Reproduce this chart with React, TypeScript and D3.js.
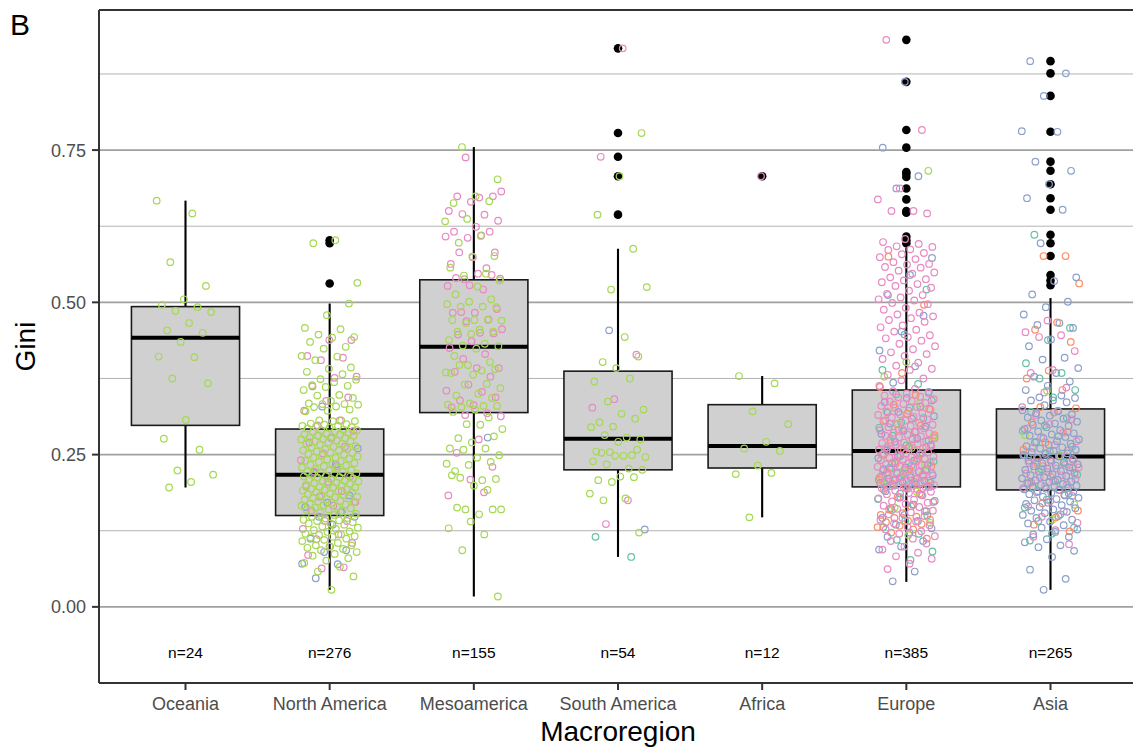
import React from "react";
import * as d3 from "d3";

// regions on the x axis and the sample size under each box
const regions = ["Oceania", "North America", "Mesoamerica", "South America", "Africa", "Europe", "Asia"];
const counts = [24, 276, 155, 54, 12, 385, 265];

// box statistics
const q1 = [0.298, 0.150, 0.319, 0.225, 0.228, 0.197, 0.192];
const medians = [0.442, 0.217, 0.427, 0.276, 0.264, 0.256, 0.247];
const q3 = [0.493, 0.292, 0.537, 0.387, 0.332, 0.356, 0.325];
const whiskerLow = [0.196, 0.028, 0.017, 0.082, 0.147, 0.041, 0.028];
const whiskerHigh = [0.667, 0.498, 0.755, 0.588, 0.379, 0.590, 0.507];

// boxplot outliers (black dots)
const outOceania: number[] = [];
const outNorthAmerica = [0.531, 0.597, 0.602];
const outMesoamerica: number[] = [];
const outSouthAmerica = [0.917, 0.778, 0.739, 0.707, 0.644];
const outAfrica = [0.707];
const outEurope = [0.931, 0.862, 0.783, 0.754, 0.714, 0.711, 0.706, 0.687, 0.669, 0.650, 0.647, 0.608, 0.602, 0.597];
const outAsia = [0.896, 0.876, 0.839, 0.780, 0.731, 0.716, 0.694, 0.671, 0.652, 0.611, 0.597, 0.576, 0.545, 0.536, 0.528];

// jittered observations, one array per region and group
const ocGreen = [0.667, 0.646, 0.566, 0.527, 0.505, 0.496, 0.492, 0.486, 0.484, 0.466, 0.454, 0.450, 0.435, 0.411, 0.410, 0.375, 0.367, 0.307, 0.276, 0.258, 0.224, 0.217, 0.205, 0.196];

const naGreen = [
  0.532, 0.602, 0.597, 0.498, 0.479, 0.458, 0.456, 0.447, 0.443, 0.442, 0.435, 0.427, 0.424, 0.412, 0.411, 0.405, 0.393, 0.391, 0.386, 0.382,
  0.374, 0.373, 0.369, 0.364, 0.363, 0.361, 0.356, 0.348, 0.347, 0.343, 0.338, 0.334, 0.333, 0.333, 0.332, 0.329, 0.328, 0.324, 0.322, 0.321,
  0.306, 0.306, 0.305, 0.305, 0.301, 0.300, 0.299, 0.297, 0.297, 0.296, 0.295, 0.294, 0.293,
  0.291, 0.290, 0.290, 0.288, 0.287, 0.286, 0.284, 0.283, 0.283, 0.281, 0.281, 0.279, 0.278, 0.277, 0.276, 0.275, 0.273, 0.272, 0.272, 0.270,
  0.268, 0.268, 0.266, 0.264, 0.263, 0.262, 0.260, 0.259, 0.257, 0.257, 0.255, 0.253, 0.253, 0.251, 0.250, 0.249, 0.247, 0.245, 0.245, 0.243,
  0.242, 0.240, 0.239, 0.238, 0.236, 0.235, 0.233, 0.232, 0.231, 0.229, 0.228, 0.226, 0.225, 0.224, 0.222, 0.221, 0.220, 0.219, 0.218, 0.217,
  0.216, 0.215, 0.214, 0.213, 0.212, 0.211, 0.210, 0.209, 0.207, 0.207, 0.206, 0.204, 0.203, 0.202, 0.201, 0.200, 0.199, 0.197, 0.196, 0.196,
  0.194, 0.193, 0.192, 0.191, 0.190, 0.188, 0.188, 0.186, 0.185, 0.184, 0.183, 0.181, 0.180, 0.179, 0.178, 0.177, 0.176, 0.174, 0.173, 0.172,
  0.171, 0.169, 0.168, 0.167, 0.166, 0.164, 0.163, 0.162, 0.160, 0.159, 0.157, 0.155, 0.153, 0.151,
  0.148, 0.146, 0.145, 0.143, 0.142, 0.141, 0.139, 0.137, 0.137, 0.135, 0.132, 0.130, 0.128, 0.126, 0.124, 0.123, 0.120, 0.119, 0.118, 0.116,
  0.115, 0.114, 0.112, 0.110, 0.108, 0.105, 0.101, 0.101, 0.099, 0.097, 0.095, 0.093, 0.090, 0.087, 0.084, 0.080, 0.076, 0.072, 0.066, 0.058,
  0.050, 0.028,
];
const naPink = [
  0.438, 0.438, 0.412, 0.409, 0.405, 0.378, 0.376, 0.362, 0.344, 0.338, 0.322, 0.306, 0.298,
  0.289, 0.277, 0.270, 0.263, 0.252, 0.241, 0.231, 0.222, 0.214, 0.205, 0.198, 0.190, 0.181, 0.172, 0.166, 0.158,
  0.141, 0.141, 0.128, 0.119, 0.111, 0.105, 0.099, 0.085, 0.065, 0.063,
];
const naBlue = [0.329, 0.260, 0.234, 0.220, 0.183, 0.171, 0.164, 0.156, 0.148, 0.148, 0.135, 0.112, 0.093, 0.090, 0.071, 0.070, 0.047];

const meGreen = [
  0.755, 0.702, 0.674, 0.663, 0.666, 0.637, 0.633, 0.609, 0.598, 0.576, 0.575, 0.557, 0.547, 0.544, 0.536, 0.526, 0.513, 0.505, 0.501, 0.497,
  0.493, 0.493, 0.492, 0.471, 0.471, 0.471, 0.466, 0.470, 0.455, 0.452, 0.452, 0.448, 0.438, 0.432, 0.429, 0.428, 0.424, 0.412, 0.402, 0.397,
  0.385, 0.388, 0.397, 0.390, 0.381, 0.384, 0.366, 0.365, 0.359, 0.350, 0.347, 0.343, 0.334, 0.332, 0.330, 0.328, 0.330, 0.324, 0.320, 0.311,
  0.300, 0.292, 0.299, 0.277, 0.280, 0.270, 0.260, 0.260, 0.258, 0.249, 0.245, 0.223, 0.238, 0.233, 0.235, 0.208, 0.212, 0.210, 0.199, 0.216,
  0.192, 0.160, 0.160, 0.152, 0.163, 0.160, 0.140, 0.129, 0.119, 0.093, 0.017,
];
const mePink = [
  0.738, 0.682, 0.672, 0.674, 0.674, 0.665, 0.650, 0.644, 0.645, 0.634, 0.624, 0.616, 0.616, 0.606, 0.608, 0.610, 0.582, 0.582, 0.574, 0.563,
  0.556, 0.538, 0.539, 0.547, 0.540, 0.545, 0.528, 0.527, 0.521, 0.484, 0.489, 0.483, 0.483, 0.472, 0.469, 0.456, 0.450, 0.447, 0.449, 0.436,
  0.425, 0.415, 0.407, 0.392, 0.392, 0.386, 0.378, 0.365, 0.355, 0.353, 0.339, 0.344, 0.331, 0.328, 0.318, 0.315, 0.313, 0.275, 0.253, 0.230,
  0.209, 0.183, 0.188,
];
const meBlue = [0.278];

const saGreen = [
  0.778, 0.707, 0.644, 0.588, 0.521, 0.525, 0.443, 0.402, 0.411, 0.392, 0.370, 0.375, 0.337, 0.324, 0.317, 0.303, 0.309, 0.296, 0.295, 0.278,
  0.282, 0.275, 0.271, 0.255, 0.249, 0.254, 0.246, 0.248, 0.253, 0.258, 0.248, 0.239, 0.227, 0.234, 0.225, 0.214, 0.208, 0.213, 0.205, 0.186,
  0.178, 0.175, 0.122,
];
const saPink = [0.917, 0.739, 0.414, 0.341, 0.327, 0.175, 0.136];
const saBlue = [0.454, 0.127];
const saTeal = [0.115, 0.082];

const afGreen = [0.379, 0.367, 0.321, 0.300, 0.271, 0.260, 0.256, 0.232, 0.218, 0.220, 0.147];
const afPink = [0.707];

const euPink = [
  0.931, 0.783, 0.687, 0.669, 0.650, 0.650, 0.646, 0.604,
  0.599, 0.596, 0.592, 0.591, 0.587, 0.586, 0.581, 0.579, 0.574, 0.571, 0.566, 0.563, 0.562, 0.558, 0.557, 0.552, 0.549, 0.547, 0.541, 0.538,
  0.536, 0.533, 0.530, 0.527, 0.524, 0.519, 0.514, 0.512, 0.508, 0.505, 0.503, 0.499, 0.497, 0.491, 0.488, 0.483, 0.480, 0.477, 0.474, 0.471,
  0.468, 0.462, 0.459, 0.455, 0.452, 0.446, 0.443, 0.441, 0.437, 0.432, 0.428, 0.423, 0.418, 0.415, 0.412, 0.407, 0.401, 0.396, 0.391, 0.389,
  0.381, 0.375, 0.372, 0.363, 0.358,
  0.354, 0.351, 0.350, 0.347, 0.345, 0.344, 0.341, 0.338, 0.337, 0.335, 0.333, 0.330, 0.328, 0.327, 0.324, 0.322, 0.321, 0.318, 0.316, 0.315,
  0.312, 0.311, 0.308, 0.306, 0.305, 0.302, 0.300, 0.299, 0.297, 0.295, 0.293, 0.292, 0.290, 0.288, 0.286, 0.285, 0.283, 0.281, 0.280, 0.278,
  0.277, 0.275, 0.274, 0.272, 0.270, 0.269, 0.268, 0.266, 0.264, 0.263, 0.262, 0.260, 0.259, 0.258, 0.256, 0.255, 0.254, 0.252, 0.251, 0.250,
  0.249, 0.247, 0.246, 0.245, 0.243, 0.242, 0.241, 0.239, 0.238, 0.237, 0.235, 0.234, 0.233, 0.231, 0.230, 0.229, 0.227, 0.226, 0.225, 0.223,
  0.222, 0.221, 0.219, 0.218, 0.216, 0.215, 0.213, 0.212, 0.210, 0.209, 0.207, 0.206, 0.204, 0.203, 0.201, 0.200, 0.199, 0.198, 0.197, 0.196,
  0.195, 0.193, 0.191, 0.189, 0.187, 0.185, 0.183, 0.180, 0.178, 0.176, 0.173, 0.171, 0.169, 0.166, 0.164, 0.161, 0.158, 0.155, 0.152, 0.149,
  0.146, 0.143, 0.140, 0.137, 0.134, 0.131, 0.127, 0.124, 0.120, 0.116, 0.112, 0.108, 0.104, 0.099, 0.094, 0.089, 0.083, 0.079, 0.071, 0.062,
];
const euBlue = [
  0.862, 0.754, 0.707, 0.687, 0.573, 0.545, 0.512, 0.478, 0.452, 0.421, 0.395, 0.368,
  0.353, 0.343, 0.336, 0.329, 0.320, 0.313, 0.309, 0.301, 0.296, 0.289, 0.284, 0.276, 0.271, 0.266, 0.261, 0.257, 0.253, 0.248, 0.244, 0.240,
  0.236, 0.233, 0.229, 0.226, 0.222, 0.219, 0.216, 0.213, 0.210, 0.207, 0.205, 0.203, 0.201, 0.199, 0.197,
  0.194, 0.190, 0.184, 0.179, 0.174, 0.168, 0.162, 0.157, 0.151, 0.146, 0.141, 0.135, 0.129, 0.122, 0.115, 0.108, 0.099, 0.094, 0.058, 0.042,
];
const euTeal = [
  0.521, 0.447, 0.389, 0.366,
  0.349, 0.339, 0.327, 0.319, 0.310, 0.303, 0.294, 0.287, 0.281, 0.273, 0.265, 0.259, 0.251, 0.246, 0.239, 0.232, 0.228, 0.224, 0.218, 0.214,
  0.211, 0.208, 0.204, 0.200, 0.197,
  0.194, 0.186, 0.177, 0.168, 0.159, 0.150, 0.141, 0.131, 0.120, 0.110, 0.091, 0.077,
];
const euOrange = [
  0.575, 0.496, 0.384, 0.361,
  0.348, 0.332, 0.325, 0.317, 0.306, 0.298, 0.291, 0.282, 0.276, 0.269, 0.262, 0.257, 0.250, 0.243, 0.236, 0.231, 0.226, 0.221, 0.217, 0.213,
  0.209, 0.205, 0.202, 0.199, 0.196,
  0.192, 0.186, 0.180, 0.172, 0.165, 0.160, 0.157, 0.154, 0.151, 0.148, 0.146, 0.143, 0.141, 0.139, 0.136, 0.133, 0.131, 0.127, 0.122, 0.112,
];
const euGreen = [0.716, 0.402, 0.378, 0.334, 0.301, 0.279, 0.261, 0.245, 0.233, 0.221, 0.207, 0.189, 0.163, 0.138, 0.118];

const asBlue = [
  0.896, 0.876, 0.839, 0.781, 0.780, 0.731, 0.716, 0.694, 0.671, 0.652, 0.597, 0.541, 0.535,
  0.513, 0.501, 0.492, 0.480, 0.466, 0.463, 0.458, 0.439, 0.428, 0.409, 0.406, 0.392, 0.384, 0.378, 0.370, 0.363, 0.356, 0.347, 0.344, 0.343,
  0.339, 0.339, 0.336, 0.331,
  0.323, 0.321, 0.318, 0.316, 0.314, 0.311, 0.309, 0.306, 0.304, 0.301, 0.299, 0.297, 0.295, 0.292, 0.290, 0.288, 0.285, 0.283, 0.281, 0.279,
  0.277, 0.275, 0.272, 0.270, 0.268, 0.266, 0.264, 0.262, 0.260, 0.258, 0.256, 0.254, 0.252, 0.251, 0.249, 0.247, 0.245, 0.243, 0.241, 0.240,
  0.238, 0.236, 0.234, 0.232, 0.231, 0.229, 0.227, 0.225, 0.223, 0.222, 0.220, 0.218, 0.216, 0.215, 0.213, 0.211, 0.209, 0.208, 0.206, 0.205,
  0.203, 0.202, 0.200, 0.199, 0.198, 0.197, 0.195, 0.194, 0.193, 0.192,
  0.190, 0.189, 0.187, 0.185, 0.183, 0.181, 0.179, 0.177, 0.175, 0.173, 0.171, 0.169, 0.167, 0.164, 0.162, 0.160, 0.158, 0.156, 0.154, 0.151,
  0.149, 0.146, 0.143, 0.140, 0.137, 0.134, 0.130, 0.127, 0.123, 0.119, 0.115, 0.111, 0.106, 0.101, 0.098, 0.092, 0.082, 0.061, 0.046, 0.028,
];
const asPink = [
  0.470, 0.451, 0.446, 0.443, 0.420, 0.389, 0.384, 0.360, 0.352, 0.328,
  0.322, 0.315, 0.308, 0.300, 0.293, 0.286, 0.279, 0.272, 0.266, 0.261, 0.257, 0.253, 0.250, 0.247, 0.244, 0.241, 0.238, 0.236, 0.233, 0.231,
  0.229, 0.227, 0.225, 0.223, 0.221, 0.219, 0.216, 0.213, 0.210, 0.207, 0.204, 0.201, 0.198, 0.195, 0.192,
  0.188, 0.182, 0.174, 0.165, 0.157, 0.148, 0.138, 0.126, 0.115, 0.103,
];
const asTeal = [
  0.611, 0.458, 0.438, 0.400, 0.384, 0.375, 0.356, 0.344,
  0.320, 0.310, 0.298, 0.289, 0.280, 0.271, 0.263, 0.255, 0.246, 0.236, 0.226, 0.217, 0.206, 0.196,
  0.186, 0.176, 0.163, 0.152, 0.141, 0.130, 0.120, 0.109,
];
const asOrange = [
  0.576, 0.576, 0.531, 0.467, 0.455, 0.435, 0.388, 0.375, 0.356, 0.328, 0.326,
  0.319, 0.303, 0.287, 0.270, 0.258, 0.249, 0.237, 0.228, 0.214, 0.203,
  0.184, 0.170, 0.158, 0.147, 0.135, 0.124,
];
const asGreen = [0.355, 0.282, 0.248, 0.230, 0.168, 0.143];

const groups = ["teal", "orange", "blue", "pink", "green"];

type RegionPoints = Partial<Record<string, number[]>>;
const regionPoints: RegionPoints[] = [
  { green: ocGreen },
  { blue: naBlue, pink: naPink, green: naGreen },
  { blue: meBlue, pink: mePink, green: meGreen },
  { teal: saTeal, blue: saBlue, pink: saPink, green: saGreen },
  { pink: afPink, green: afGreen },
  { teal: euTeal, orange: euOrange, blue: euBlue, green: euGreen, pink: euPink },
  { teal: asTeal, orange: asOrange, pink: asPink, green: asGreen, blue: asBlue },
];
const regionOutliers = [outOceania, outNorthAmerica, outMesoamerica, outSouthAmerica, outAfrica, outEurope, outAsia];

const font = "'Liberation Sans', Arial, Helvetica, sans-serif";

export default function App() {
  const width = 1133, height = 747;
  const panel = { left: 99, top: 10, right: 1137, bottom: 683 };

  const x = d3.scalePoint<string>().domain(regions).range([panel.left, panel.right]).padding(0.6);
  const step = x.step();
  const boxW = step * 0.75;
  const y = d3.scaleLinear().domain([-0.125, 0.98]).range([panel.bottom, panel.top]);
  const color = d3.scaleOrdinal<string, string>().domain(groups).range(d3.schemeSet2.slice(0, 5));

  const majors = [0, 0.25, 0.5, 0.75];
  const minors = [0.125, 0.375, 0.625, 0.875];

  // flatten jittered points; horizontal jitter from a golden-ratio sequence
  const pts: { cx: number; cy: number; c: string; key: string }[] = [];
  regionPoints.forEach((rp, r) => {
    let i = 0;
    const cx0 = x(regions[r]) as number;
    Object.keys(rp).forEach((g) => {
      (rp[g] || []).forEach((v) => {
        const u = ((i * 0.6180339887 + r * 0.37) % 1) * 2 - 1;
        pts.push({ cx: cx0 + u * 0.2 * step, cy: y(v), c: color(g), key: `${r}-${g}-${i}` });
        i++;
      });
    });
  });

  return (
    <svg width={width} height={height} style={{ position: "absolute", left: 0, top: 0, background: "#fff" }}>
      <rect width={width} height={height} fill="#fff" />
      {minors.map((m) => (
        <line key={"mi" + m} x1={panel.left} x2={panel.right} y1={y(m)} y2={y(m)} stroke="#ababab" strokeWidth={0.9} />
      ))}
      {majors.map((m) => (
        <line key={"ma" + m} x1={panel.left} x2={panel.right} y1={y(m)} y2={y(m)} stroke="#a0a0a0" strokeWidth={1.6} />
      ))}

      {regions.map((reg, r) => {
        const cx = x(reg) as number;
        return (
          <g key={reg}>
            <line x1={cx} x2={cx} y1={y(whiskerLow[r])} y2={y(q1[r])} stroke="#000" strokeWidth={2.1} />
            <line x1={cx} x2={cx} y1={y(q3[r])} y2={y(whiskerHigh[r])} stroke="#000" strokeWidth={2.1} />
            <rect x={cx - boxW / 2} y={y(q3[r])} width={boxW} height={y(q1[r]) - y(q3[r])} fill="#d0d0d0" stroke="#1a1a1a" strokeWidth={1.6} />
            <line x1={cx - boxW / 2} x2={cx + boxW / 2} y1={y(medians[r])} y2={y(medians[r])} stroke="#000" strokeWidth={4} />
            {regionOutliers[r].map((v, k) => (
              <circle key={k} cx={cx} cy={y(v)} r={4.3} fill="#000" />
            ))}
          </g>
        );
      })}

      {pts.map((p) => (
        <circle key={p.key} cx={p.cx} cy={p.cy} r={3.3} fill="none" stroke={p.c} strokeWidth={1.2} />
      ))}

      {regions.map((reg, r) => (
        <text key={"n" + reg} x={x(reg)} y={y(-0.075)} dy="0.35em" textAnchor="middle" fontFamily={font} fontSize={15.5} fill="#000">
          {`n=${counts[r]}`}
        </text>
      ))}

      {/* panel frame */}
      <line x1={panel.left} x2={panel.right} y1={panel.top} y2={panel.top} stroke="#333" strokeWidth={2} />
      <line x1={panel.left} x2={panel.left} y1={panel.top} y2={panel.bottom} stroke="#333" strokeWidth={2} />
      <line x1={panel.left} x2={panel.right} y1={panel.bottom} y2={panel.bottom} stroke="#333" strokeWidth={2} />

      {/* y axis */}
      {majors.map((m) => (
        <g key={"yt" + m}>
          <line x1={panel.left - 7} x2={panel.left} y1={y(m)} y2={y(m)} stroke="#333" strokeWidth={2} />
          <text x={panel.left - 13} y={y(m)} dy="0.36em" textAnchor="end" fontFamily={font} fontSize={18} fill="#4d4d4d">
            {d3.format(".2f")(m)}
          </text>
        </g>
      ))}

      {/* x axis */}
      {regions.map((reg) => (
        <g key={"xt" + reg}>
          <line x1={x(reg)} x2={x(reg)} y1={panel.bottom} y2={panel.bottom + 7} stroke="#333" strokeWidth={2} />
          <text x={x(reg)} y={710} textAnchor="middle" fontFamily={font} fontSize={18} fill="#4d4d4d">
            {reg}
          </text>
        </g>
      ))}

      <text x={(panel.left + panel.right) / 2} y={741} textAnchor="middle" fontFamily={font} fontSize={28} fill="#000">
        Macroregion
      </text>
      <text transform={`translate(35, ${(panel.top + panel.bottom) / 2}) rotate(-90)`} textAnchor="middle" fontFamily={font} fontSize={28} fill="#000">
        Gini
      </text>
      <text x={10} y={35} fontFamily={font} fontSize={30} fill="#000">
        B
      </text>
    </svg>
  );
}
